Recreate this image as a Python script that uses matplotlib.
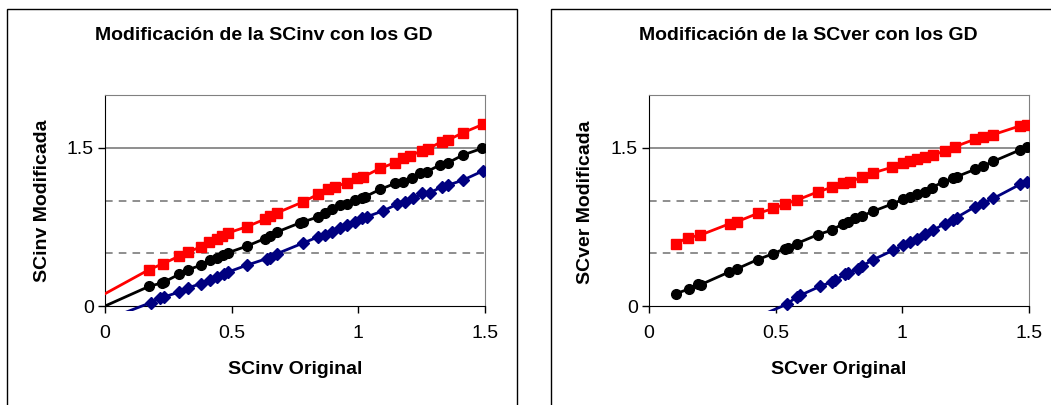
import matplotlib
matplotlib.use("Agg")
import matplotlib.pyplot as plt
from matplotlib.patches import Rectangle

plt.rcParams['font.family'] = ['Liberation Sans', 'DejaVu Sans']

# ---- left panel: SCinv ----
inv_red_x = [0.174, 0.230, 0.292, 0.329, 0.378, 0.412, 0.441, 0.461, 0.487, 0.559, 0.632, 0.651,
             0.680, 0.783, 0.842, 0.882, 0.908, 0.954, 0.993, 1.020, 1.086, 1.145, 1.178, 1.204,
             1.250, 1.276, 1.329, 1.355, 1.414, 1.493]
inv_red_y = [0.346, 0.403, 0.473, 0.514, 0.561, 0.609, 0.640, 0.666, 0.695, 0.752, 0.825, 0.853,
             0.885, 0.990, 1.062, 1.107, 1.132, 1.170, 1.212, 1.227, 1.307, 1.361, 1.402, 1.424,
             1.475, 1.494, 1.560, 1.576, 1.646, 1.725]
inv_black_x = [0.174, 0.224, 0.233, 0.292, 0.329, 0.378, 0.414, 0.441, 0.464, 0.487, 0.559, 0.632,
               0.651, 0.680, 0.770, 0.783, 0.842, 0.868, 0.895, 0.928, 0.954, 0.987, 1.013, 1.026,
               1.086, 1.145, 1.178, 1.211, 1.243, 1.270, 1.322, 1.355, 1.414, 1.489]
inv_black_y = [0.187, 0.219, 0.228, 0.301, 0.346, 0.387, 0.435, 0.460, 0.482, 0.507, 0.568, 0.641,
               0.666, 0.704, 0.790, 0.799, 0.847, 0.885, 0.917, 0.958, 0.967, 1.005, 1.021, 1.037,
               1.107, 1.164, 1.180, 1.218, 1.259, 1.275, 1.338, 1.361, 1.434, 1.497]
inv_blue_x = [0.180, 0.217, 0.233, 0.292, 0.329, 0.378, 0.414, 0.441, 0.470, 0.487, 0.559, 0.638,
              0.651, 0.680, 0.783, 0.842, 0.868, 0.895, 0.928, 0.954, 0.987, 1.013, 1.033, 1.099,
              1.151, 1.184, 1.217, 1.250, 1.283, 1.329, 1.355, 1.414, 1.493]
inv_blue_y = [0.032, 0.076, 0.086, 0.133, 0.174, 0.212, 0.244, 0.276, 0.301, 0.324, 0.387, 0.450,
              0.460, 0.498, 0.599, 0.657, 0.679, 0.704, 0.745, 0.768, 0.799, 0.831, 0.847, 0.904,
              0.964, 0.990, 1.021, 1.069, 1.075, 1.132, 1.148, 1.196, 1.284]
# where each line starts (lines run beyond the first marker)
inv_start = {"red": (0.0, 0.117), "black": (0.0, 0.0), "blue": (0.07, -0.07)}

# ---- right panel: SCver ----
ver_red_x = [0.105, 0.155, 0.201, 0.320, 0.346, 0.429, 0.491, 0.537, 0.583, 0.668, 0.721, 0.767,
             0.793, 0.839, 0.886, 0.958, 1.004, 1.030, 1.057, 1.089, 1.122, 1.168, 1.208, 1.287,
             1.320, 1.359, 1.464, 1.491]
ver_red_y = [0.593, 0.650, 0.672, 0.783, 0.799, 0.879, 0.926, 0.967, 1.005, 1.085, 1.126, 1.164,
             1.180, 1.221, 1.265, 1.316, 1.354, 1.373, 1.392, 1.418, 1.430, 1.475, 1.513, 1.583,
             1.608, 1.627, 1.709, 1.722]
ver_black_x = [0.105, 0.158, 0.195, 0.204, 0.317, 0.346, 0.429, 0.491, 0.537, 0.550, 0.583, 0.668,
               0.721, 0.767, 0.787, 0.813, 0.839, 0.886, 0.958, 1.004, 1.030, 1.057, 1.089, 1.116,
               1.162, 1.201, 1.214, 1.287, 1.320, 1.359, 1.464, 1.491]
ver_black_y = [0.117, 0.162, 0.206, 0.203, 0.324, 0.352, 0.441, 0.498, 0.546, 0.555, 0.593, 0.679,
               0.720, 0.783, 0.799, 0.831, 0.853, 0.901, 0.967, 1.012, 1.037, 1.062, 1.085, 1.123,
               1.180, 1.212, 1.227, 1.297, 1.332, 1.373, 1.481, 1.510]
ver_blue_x = [0.543, 0.583, 0.596, 0.675, 0.721, 0.734, 0.774, 0.787, 0.826, 0.839, 0.886, 0.964,
              1.004, 1.030, 1.057, 1.089, 1.122, 1.168, 1.201, 1.214, 1.287, 1.320, 1.359, 1.464,
              1.491]
ver_blue_y = [0.016, 0.086, 0.101, 0.187, 0.228, 0.244, 0.301, 0.314, 0.355, 0.377, 0.441, 0.530,
              0.577, 0.609, 0.641, 0.688, 0.720, 0.783, 0.815, 0.840, 0.942, 0.980, 1.021, 1.154,
              1.180]
ver_start = {"red": None, "black": None, "blue": (0.44, -0.09)}

styles = {
    "red": dict(color="#ff0000", marker="s", ms=7.5),
    "black": dict(color="black", marker="o", ms=7),
    "blue": dict(color="#000080", marker="D", ms=6),
}

W, H = 1051, 405
fig = plt.figure(figsize=(W / 100, H / 100), dpi=100)
fig.patch.set_facecolor("white")

# panel frames
for x0, x1 in [(7, 517), (551, 1060)]:
    fig.patches.append(Rectangle((x0 / W, -0.02), (x1 - x0) / W, 1.02 - 9 / H,
                                 transform=fig.transFigure, fill=False,
                                 edgecolor="black", lw=1))


def draw_panel(ax, series, starts):
    ax.set_xlim(0, 1.5)
    ax.set_ylim(-0.05, 2.0)
    for y in (0.5, 1.0):
        ax.axhline(y, color="#707070", lw=1.1, ls=(0, (5, 4)), zorder=1)
    ax.axhline(1.5, color="#707070", lw=1.1, zorder=1)
    for name, (xs, ys) in series.items():
        st = styles[name]
        lx, ly = list(xs), list(ys)
        if starts[name] is not None:
            lx = [starts[name][0]] + lx
            ly = [starts[name][1]] + ly
        ax.plot(lx, ly, color=st["color"], lw=2, zorder=3)
        ax.plot(xs, ys, ls="none", marker=st["marker"], ms=st["ms"],
                color=st["color"], mec=st["color"], zorder=4)
    ax.spines["bottom"].set_position(("data", 0))
    ax.spines["left"].set_bounds(0, 2.0)
    ax.spines["right"].set_bounds(0, 2.0)
    for s in ("top", "right"):
        ax.spines[s].set_color("#808080")
    ax.spines["left"].set_color("black")
    ax.spines["bottom"].set_color("black")
    ax.set_xticks([0, 0.5, 1, 1.5])
    ax.set_xticklabels(["0", "0.5", "1", "1.5"])
    ax.set_yticks([0, 1.5])
    ax.set_yticklabels(["0", "1.5"])
    ax.tick_params(direction="out", length=5, width=1, labelsize=14, color="black")
    ax.tick_params(axis="x", pad=9)
    ax.tick_params(axis="y", pad=3)


ax1 = fig.add_axes([105 / W, 0.2313, 380 / W, 0.5334])
draw_panel(ax1, {"red": (inv_red_x, inv_red_y), "black": (inv_black_x, inv_black_y),
                 "blue": (inv_blue_x, inv_blue_y)}, inv_start)
ax2 = fig.add_axes([649 / W, 0.2313, 380 / W, 0.5334])
draw_panel(ax2, {"red": (ver_red_x, ver_red_y), "black": (ver_black_x, ver_black_y),
                 "blue": (ver_blue_x, ver_blue_y)}, ver_start)

tkw = dict(fontweight="bold", ha="center", va="center")
fig.text(264 / W, 1 - 35 / H, "Modificación de la SCinv con los GD", fontsize=14, **tkw)
fig.text(295 / W, 1 - 369 / H, "SCinv Original", fontsize=14, **tkw)
fig.text(43 / W, 1 - 201 / H, "SCinv Modificada", rotation=90, fontsize=14, **tkw)
fig.text(808 / W, 1 - 35 / H, "Modificación de la SCver con los GD", fontsize=14, **tkw)
fig.text(839 / W, 1 - 369 / H, "SCver Original", fontsize=14, **tkw)
fig.text(585 / W, 1 - 202 / H, "SCver Modificada", rotation=90, fontsize=14, **tkw)

plt.savefig("out.png", dpi=100)
